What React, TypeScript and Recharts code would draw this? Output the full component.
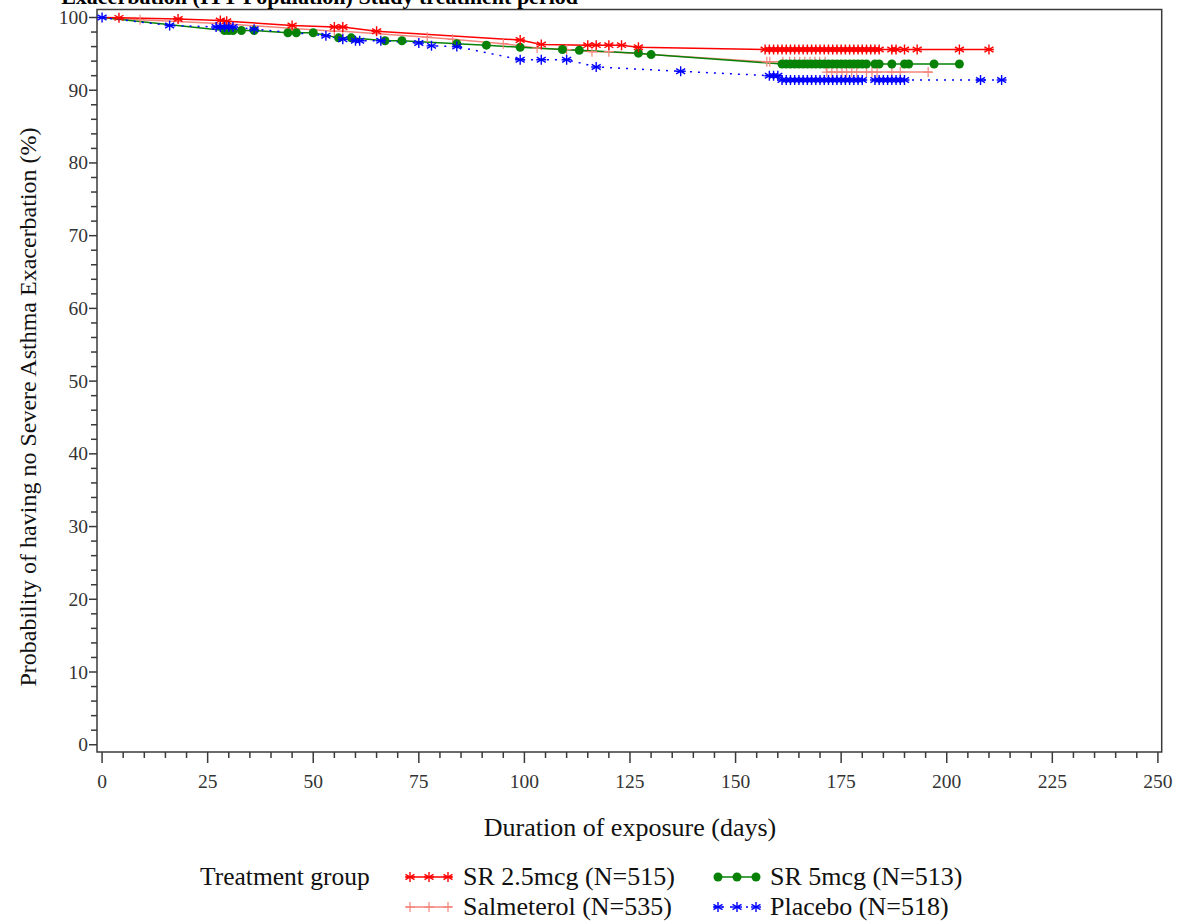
import React from 'react';
import { LineChart, Line, XAxis, YAxis, ReferenceArea } from 'recharts';

// Kaplan-Meier estimates per arm: [day, % without severe exacerbation, censored (1) or not (0)]
const sr25Curve: [number, number, number][] = [
  [0, 100, 0], [4, 99.95, 1], [18, 99.8, 1], [28, 99.6, 1], [29.5, 99.5, 1], [45, 98.9, 1],
  [55, 98.7, 1], [57, 98.7, 1], [65, 98.1, 1], [99, 96.9, 1], [104, 96.3, 1], [115, 96.2, 1],
  [117, 96.2, 1], [120, 96.2, 1], [123, 96.2, 1], [127, 95.9, 1], [157, 95.6, 1], [158, 95.6, 1],
  [159, 95.6, 1], [160, 95.6, 1], [161, 95.6, 1], [162, 95.6, 1], [163, 95.6, 1], [164, 95.6, 1],
  [165, 95.6, 1], [166, 95.6, 1], [167, 95.6, 1], [168, 95.6, 1], [169, 95.6, 1], [170, 95.6, 1],
  [171, 95.6, 1], [172, 95.6, 1], [173, 95.6, 1], [174, 95.6, 1], [175, 95.6, 1], [176, 95.6, 1],
  [177, 95.6, 1], [178, 95.6, 1], [179, 95.6, 1], [180, 95.6, 1], [181, 95.6, 1], [182, 95.6, 1],
  [183, 95.6, 1], [184, 95.6, 1], [187, 95.6, 1], [188, 95.6, 1], [190, 95.6, 1], [193, 95.6, 1],
  [203, 95.6, 1], [210, 95.6, 1],
];

const salmCurve: [number, number, number][] = [
  [0, 100, 0], [9, 99.7, 1], [30, 99.1, 0], [55, 98.1, 1], [57, 98.1, 1], [77, 97.3, 1],
  [83, 97.0, 1], [95, 96.4, 1], [103, 95.8, 1], [110, 95.6, 1], [116, 95.3, 1], [120, 95.3, 1],
  [157.4, 93.9, 1], [158.1, 93.9, 1], [161.2, 93.9, 1], [162.8, 93.9, 1], [164, 93.9, 1],
  [165.2, 93.9, 1], [166.4, 93.9, 1], [167.6, 93.9, 1], [168.8, 93.9, 1], [169.9, 93.9, 1],
  [171.2, 93.9, 1], [171.6, 92.5, 1], [172.8, 92.5, 1], [174, 92.5, 1], [175.2, 92.5, 1],
  [176.3, 92.5, 1], [177.5, 92.5, 1], [178.7, 92.5, 1], [181, 92.5, 1], [182.3, 92.5, 1],
  [183.5, 92.5, 1], [187, 92.5, 1], [189, 92.5, 1], [195.6, 92.5, 1], [196.5, 92.5, 0],
];

const sr5Curve: [number, number, number][] = [
  [0, 100, 0], [29, 98.2, 1], [30, 98.2, 1], [31, 98.2, 1], [33, 98.2, 1], [36, 98.2, 1],
  [44, 97.9, 1], [46, 97.9, 1], [50, 97.9, 1], [56, 97.2, 1], [59, 97.2, 1], [67, 96.8, 1],
  [71, 96.8, 1], [84, 96.4, 1], [91, 96.2, 1], [99, 95.9, 1], [109, 95.6, 1], [113, 95.5, 1],
  [127, 95.1, 1], [130, 94.9, 1], [161, 93.6, 1], [162, 93.6, 1], [163, 93.6, 1], [164, 93.6, 1],
  [165, 93.6, 1], [166, 93.6, 1], [167, 93.6, 1], [168, 93.6, 1], [169, 93.6, 1], [170, 93.6, 1],
  [171, 93.6, 1], [172, 93.6, 1], [173, 93.6, 1], [174, 93.6, 1], [175, 93.6, 1], [176, 93.6, 1],
  [177, 93.6, 1], [178, 93.6, 1], [179, 93.6, 1], [180, 93.6, 1], [181, 93.6, 1], [183, 93.6, 1],
  [184, 93.6, 1], [187, 93.6, 1], [190, 93.6, 1], [191, 93.6, 1], [197, 93.6, 1], [203, 93.6, 1],
];

const placeboCurve: [number, number, number][] = [
  [0, 100, 1], [16, 98.9, 1], [27, 98.7, 1], [28, 98.7, 1], [29, 98.7, 1], [30, 98.7, 1],
  [31, 98.7, 1], [36, 98.4, 1], [53, 97.5, 1], [57, 97.0, 1], [60, 96.8, 1], [61, 96.8, 1],
  [66, 96.8, 1], [75, 96.5, 1], [78, 96.1, 1], [84, 96.0, 1], [99, 94.2, 1], [104, 94.2, 1],
  [110, 94.2, 1], [117, 93.2, 1], [137, 92.6, 1], [158, 92.0, 1], [159, 92.0, 1], [160, 92.0, 1],
  [161, 91.4, 1], [162, 91.4, 1], [163, 91.4, 1], [164, 91.4, 1], [165, 91.4, 1], [166, 91.4, 1],
  [167, 91.4, 1], [168, 91.4, 1], [169, 91.4, 1], [170, 91.4, 1], [171, 91.4, 1], [172, 91.4, 1],
  [173, 91.4, 1], [174, 91.4, 1], [175, 91.4, 1], [176, 91.4, 1], [177, 91.4, 1], [178, 91.4, 1],
  [179, 91.4, 1], [180, 91.4, 1], [183, 91.4, 1], [184, 91.4, 1], [185, 91.4, 1], [186, 91.4, 1],
  [187, 91.4, 1], [188, 91.4, 1], [189, 91.4, 1], [190, 91.4, 1], [208, 91.4, 1], [213, 91.4, 1],
];

const xMajorTicks = [0, 25, 50, 75, 100, 125, 150, 175, 200, 225, 250];
const yMajorTicks = [0, 10, 20, 30, 40, 50, 60, 70, 80, 90, 100];
const xMinorStep = 5;
const yMinorStep = 2;

const xTicks = Array.from({ length: 250 / xMinorStep + 1 }, (_, i) => i * xMinorStep);
const yTicks = Array.from({ length: 100 / yMinorStep + 1 }, (_, i) => i * yMinorStep);

const toRows = (c: [number, number, number][]) => c.map(([d, p, cen]) => ({ d, p, cen }));

const FONT = '"Liberation Serif", "Times New Roman", serif';
const AXIS = '#3a3a3a';

type Marker = 'star' | 'plus' | 'dot';

function drawMarker(kind: Marker, cx: number, cy: number, color: string, key?: React.Key) {
  if (kind === 'dot') return <circle key={key} cx={cx} cy={cy} r={4.5} fill={color} />;
  if (kind === 'plus') {
    return (
      <g key={key} stroke={color} strokeWidth={1.2}>
        <line x1={cx} x2={cx} y1={cy - 5} y2={cy + 5} />
        <line x1={cx - 5} x2={cx + 5} y1={cy} y2={cy} />
      </g>
    );
  }
  return (
    <g key={key} stroke={color} strokeWidth={1.4}>
      <line x1={cx} x2={cx} y1={cy - 5} y2={cy + 5} />
      <line x1={cx - 4.5} x2={cx + 4.5} y1={cy - 2.6} y2={cy + 2.6} />
      <line x1={cx - 4.5} x2={cx + 4.5} y1={cy + 2.6} y2={cy - 2.6} />
      <line x1={cx - 5} x2={cx + 5} y1={cy} y2={cy} />
    </g>
  );
}

// only censored observations get a symbol
const censorDot = (kind: Marker, color: string) => (props: any) => {
  const { cx, cy, payload, index } = props;
  if (!payload.cen) return <g key={index} />;
  return drawMarker(kind, cx, cy, color, index);
};

const XTick = ({ x, y, payload }: any) => {
  const major = xMajorTicks.includes(payload.value);
  return (
    <g>
      <line x1={x} x2={x} y1={y} y2={y + (major ? 11 : 6)} stroke={AXIS} strokeWidth={1.5} />
      {major && (
        <text x={x} y={y + 36} textAnchor="middle" fontFamily={FONT} fontSize={19.5} fill="#333">
          {payload.value}
        </text>
      )}
    </g>
  );
};

const YTick = ({ x, y, payload }: any) => {
  const major = yMajorTicks.includes(payload.value);
  return (
    <g>
      <line x1={x - (major ? 8 : 6)} x2={x} y1={y} y2={y} stroke={AXIS} strokeWidth={1.5} />
      {major && (
        <text x={x - 9} y={y + 6.5} textAnchor="end" fontFamily={FONT} fontSize={19.5} fill="#333">
          {payload.value}
        </text>
      )}
    </g>
  );
};

const series = [
  { name: 'Salmeterol (N=535)', data: toRows(salmCurve), color: '#f4857c', marker: 'plus' as Marker, dash: undefined },
  { name: 'SR 5mcg (N=513)', data: toRows(sr5Curve), color: '#078207', marker: 'dot' as Marker, dash: undefined },
  { name: 'SR 2.5mcg (N=515)', data: toRows(sr25Curve), color: '#ff0000', marker: 'star' as Marker, dash: undefined },
  { name: 'Placebo (N=518)', data: toRows(placeboCurve), color: '#0000ff', marker: 'star' as Marker, dash: '2 6' },
];

const legendRows = [
  [series[2], series[1]],
  [series[0], series[3]],
];

function LegendSample({ s, x, y }: { s: typeof series[number]; x: number; y: number }) {
  return (
    <g>
      <line x1={x} x2={x + 46} y1={y} y2={y} stroke={s.color} strokeWidth={1.5} strokeDasharray={s.dash} />
      {[x + 4, x + 23, x + 42].map((mx, i) => drawMarker(s.marker, mx, y, s.color, i))}
    </g>
  );
}

export default function App() {
  return (
    <div style={{ position: 'absolute', left: 0, top: 0, width: 1177, height: 922, background: '#fff' }}>
      <LineChart
        width={1177}
        height={922}
        margin={{ top: 9.5, right: 15.3, left: 0, bottom: 0 }}
      >
        <XAxis
          type="number"
          dataKey="d"
          domain={[-1.2, 250.9]}
          ticks={xTicks}
          interval={0}
          tick={<XTick />}
          tickSize={0}
          tickMargin={0}
          axisLine={false}
          height={170}
          allowDataOverflow
        />
        <YAxis
          type="number"
          dataKey="p"
          domain={[-1, 101.1]}
          ticks={yTicks}
          interval={0}
          tick={<YTick />}
          tickSize={0}
          tickMargin={0}
          axisLine={false}
          width={97}
          allowDataOverflow
        />
        <ReferenceArea x1={-1.2} x2={250.9} y1={-1} y2={101.1} fill="none" stroke={AXIS} strokeWidth={1.5} />
        {series.map((s) => (
          <Line
            key={s.name}
            data={s.data}
            dataKey="p"
            type="linear"
            stroke={s.color}
            strokeWidth={1.5}
            strokeDasharray={s.dash}
            dot={censorDot(s.marker, s.color)}
            activeDot={false}
            isAnimationActive={false}
          />
        ))}
      </LineChart>

      <svg
        width={1177}
        height={922}
        style={{ position: 'absolute', left: 0, top: 0, pointerEvents: 'none' }}
        fontFamily={FONT}
      >
        <text x={578} y={4} textAnchor="end" fontSize={22} fontWeight="bold">
          Exacerbation (ITT Population) Study treatment period
        </text>
        <text transform="translate(36,407) rotate(-90)" textAnchor="middle" fontSize={24} fill="#111">
          Probability of having no Severe Asthma Exacerbation (%)
        </text>
        <text x={630} y={836} textAnchor="middle" fontSize={26} fill="#111">
          Duration of exposure (days)
        </text>

        <text x={200} y={885} fontSize={25.5} fill="#111">Treatment group</text>
        {legendRows.map((row, r) =>
          row.map((s, c) => (
            <g key={s.name}>
              <LegendSample s={s} x={c === 0 ? 406 : 714} y={877 + r * 30} />
              <text x={c === 0 ? 463 : 770} y={885 + r * 30} fontSize={26} fill="#111">
                {s.name}
              </text>
            </g>
          ))
        )}
      </svg>
    </div>
  );
}
